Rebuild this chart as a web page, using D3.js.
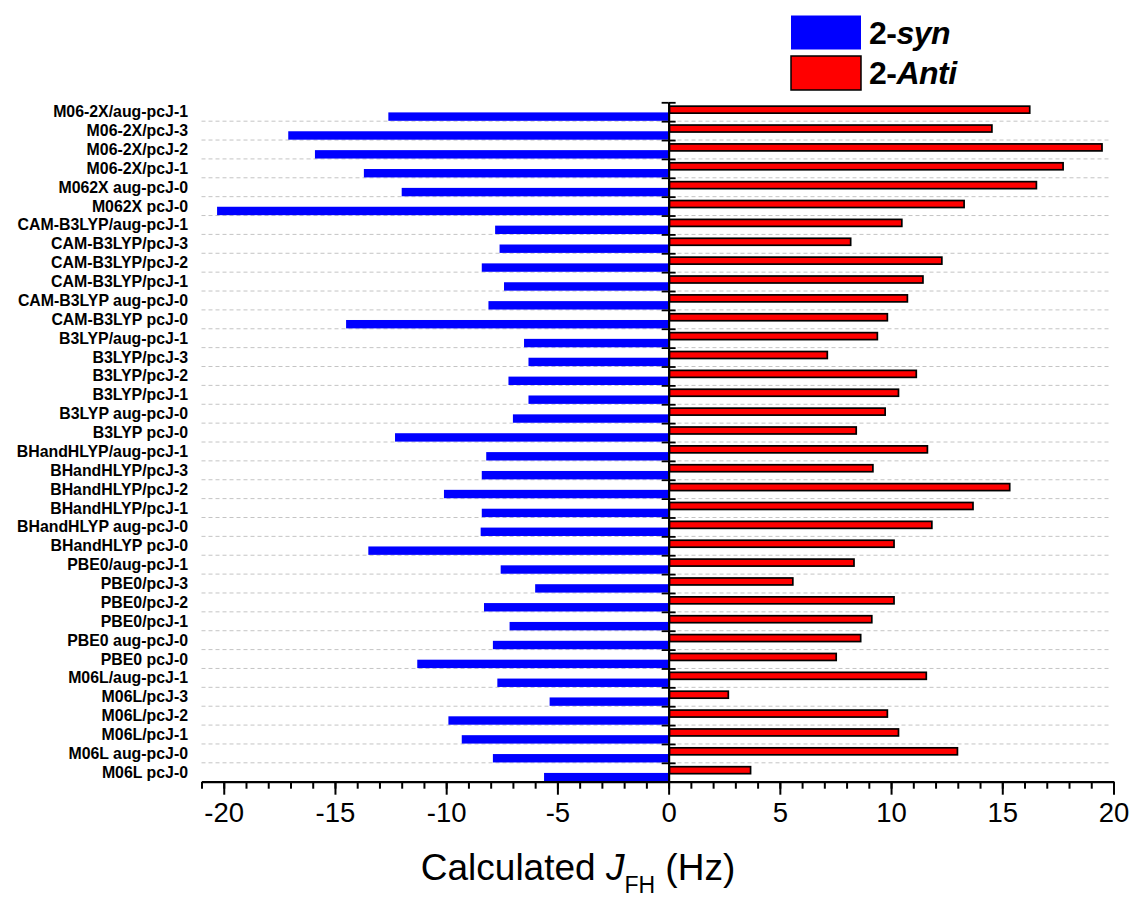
<!DOCTYPE html>
<html>
<head>
<meta charset="utf-8">
<script src="https://cdn.jsdelivr.net/npm/d3@7"></script>
<style>
  html, body { margin: 0; padding: 0; background: #fff; }
  svg { display: block; }
  text { font-family: "Liberation Sans", Arial, sans-serif; }
</style>
</head>
<body>
<svg id="chart" width="1132" height="899"></svg>
<script>
// Methods / basis sets, listed top to bottom
const categories = [
  "M06-2X/aug-pcJ-1", "M06-2X/pcJ-3", "M06-2X/pcJ-2", "M06-2X/pcJ-1", "M062X aug-pcJ-0", "M062X pcJ-0",
  "CAM-B3LYP/aug-pcJ-1", "CAM-B3LYP/pcJ-3", "CAM-B3LYP/pcJ-2", "CAM-B3LYP/pcJ-1", "CAM-B3LYP aug-pcJ-0", "CAM-B3LYP pcJ-0",
  "B3LYP/aug-pcJ-1", "B3LYP/pcJ-3", "B3LYP/pcJ-2", "B3LYP/pcJ-1", "B3LYP aug-pcJ-0", "B3LYP pcJ-0",
  "BHandHLYP/aug-pcJ-1", "BHandHLYP/pcJ-3", "BHandHLYP/pcJ-2", "BHandHLYP/pcJ-1", "BHandHLYP aug-pcJ-0", "BHandHLYP pcJ-0",
  "PBE0/aug-pcJ-1", "PBE0/pcJ-3", "PBE0/pcJ-2", "PBE0/pcJ-1", "PBE0 aug-pcJ-0", "PBE0 pcJ-0",
  "M06L/aug-pcJ-1", "M06L/pcJ-3", "M06L/pcJ-2", "M06L/pcJ-1", "M06L aug-pcJ-0", "M06L pcJ-0"
];

// Calculated J(FH) in Hz for the 2-syn conformer
const synValues = [
  -12.6, -17.1, -15.9, -13.7, -12.0, -20.3,
  -7.8, -7.6, -8.4, -7.4, -8.1, -14.5,
  -6.5, -6.3, -7.2, -6.3, -7.0, -12.3,
  -8.2, -8.4, -10.1, -8.4, -8.45, -13.5,
  -7.55, -6.0, -8.3, -7.15, -7.9, -11.3,
  -7.7, -5.35, -9.9, -9.3, -7.9, -5.6
];

// Calculated J(FH) in Hz for the 2-Anti conformer
const antiValues = [
  16.2, 14.5, 19.45, 17.7, 16.5, 13.25,
  10.45, 8.15, 12.25, 11.4, 10.7, 9.8,
  9.35, 7.1, 11.1, 10.3, 9.7, 8.4,
  11.6, 9.15, 15.3, 13.65, 11.8, 10.1,
  8.3, 5.55, 10.1, 9.1, 8.6, 7.5,
  11.55, 2.65, 9.8, 10.3, 12.95, 3.65
];

const xDomain = [-21, 20];
const majorTicks = [-20, -15, -10, -5, 0, 5, 10, 15, 20];
const minorTicks = d3.range(-21, 21, 1);

const legendItems = [
  { prefix: "2-", name: "syn", color: "#0000ff", stroke: "none" },
  { prefix: "2-", name: "Anti", color: "#ff0000", stroke: "#000" }
];

const svg = d3.select("#chart");
const plotTop = 102.3, plotBottom = 781.7, plotLeft = 201.5, plotRight = 1113.5;

const x = d3.scaleLinear().domain(xDomain).range([plotLeft, plotRight]);
const y = d3.scaleBand().domain(categories).range([plotTop, plotBottom]).paddingInner(0).paddingOuter(0);
const bw = y.bandwidth();
// row boundaries (index scale) for gridlines and axis ticks
const yb = d3.scaleLinear().domain([0, categories.length]).range([plotTop, plotBottom]);

// dashed gridlines between rows
svg.append("g")
  .selectAll("line")
  .data(d3.range(1, categories.length))
  .join("line")
  .attr("x1", x(xDomain[0])).attr("x2", x(xDomain[1]) - 3)
  .attr("y1", d => yb(d)).attr("y2", d => yb(d))
  .attr("stroke", "#c4c4c4").attr("stroke-width", 1)
  .attr("stroke-dasharray", "4,3");

// 2-syn bars (lower half of each row)
svg.append("g")
  .selectAll("rect")
  .data(categories.map((c, i) => ({ c, v: synValues[i] })))
  .join("rect")
  .attr("x", d => x(Math.min(0, d.v)))
  .attr("width", d => Math.abs(x(d.v) - x(0)))
  .attr("y", d => y(d.c) + bw * 0.535)
  .attr("height", bw * 0.445)
  .attr("fill", "#0000ff");

// 2-Anti bars (upper half of each row)
svg.append("g")
  .selectAll("rect")
  .data(categories.map((c, i) => ({ c, v: antiValues[i] })))
  .join("rect")
  .attr("x", d => x(Math.min(0, d.v)) + 0.75)
  .attr("width", d => Math.abs(x(d.v) - x(0)))
  .attr("y", d => y(d.c) + bw * 0.205)
  .attr("height", bw * 0.37)
  .attr("fill", "#ff0000")
  .attr("stroke", "#000").attr("stroke-width", 1.7);

// bottom axis: minor ticks every 1 Hz, major every 5 Hz
const gx = svg.append("g").attr("transform", `translate(0,${plotBottom})`);
gx.append("g")
  .call(d3.axisBottom(x).tickValues(minorTicks).tickSize(7).tickSizeOuter(0).tickFormat(""))
  .call(g => g.selectAll("line").attr("stroke-width", 2))
  .call(g => g.select(".domain").attr("stroke-width", 2.2));
gx.append("g")
  .call(d3.axisBottom(x).tickValues(majorTicks).tickSize(13).tickSizeOuter(0).tickPadding(8).tickFormat(d3.format("d")))
  .call(g => g.select(".domain").remove())
  .call(g => g.selectAll("line").attr("stroke-width", 2))
  .call(g => g.selectAll("text")
    .attr("font-size", 27.5)
    .attr("fill", "#000")
    .attr("font-family", "'Liberation Sans', Arial, sans-serif")
    .text(d => d < 0 ? "-" + Math.abs(d) : d));

// vertical axis at zero with ticks crossing it at every row boundary
const gy = svg.append("g").attr("transform", `translate(${x(0)},0)`);
gy.append("g")
  .call(d3.axisLeft(yb).tickValues(d3.range(0, categories.length)).tickSize(7).tickSizeOuter(0).tickFormat(""))
  .call(g => g.selectAll("line").attr("stroke-width", 1.8))
  .call(g => g.select(".domain").attr("stroke-width", 2.2));
gy.append("g")
  .call(d3.axisRight(yb).tickValues(d3.range(0, categories.length)).tickSize(7).tickSizeOuter(0).tickFormat(""))
  .call(g => g.select(".domain").remove())
  .call(g => g.selectAll("line").attr("stroke-width", 1.8));

// category labels, bold and slightly narrowed, right-aligned
svg.append("g")
  .selectAll("text")
  .data(categories)
  .join("text")
  .attr("transform", d => `translate(188,${y(d) + bw / 2 + 5.5}) scale(0.945,1)`)
  .attr("text-anchor", "end")
  .attr("font-size", 16.8)
  .attr("font-weight", "bold")
  .attr("fill", "#000")
  .text(d => d);

// axis title
const title = svg.append("text")
  .attr("x", 578).attr("y", 880)
  .attr("text-anchor", "middle")
  .attr("font-size", 37)
  .attr("fill", "#000");
title.append("tspan").text("Calculated ");
title.append("tspan").attr("font-style", "italic").text("J");
title.append("tspan").attr("font-size", 23).attr("dy", 13).text("FH");
title.append("tspan").attr("dy", -13).text(" (Hz)");

// legend
const legend = svg.append("g");
legendItems.forEach((item, i) => {
  const top = 15.5 + i * 40.5;
  legend.append("rect")
    .attr("x", 791).attr("y", top)
    .attr("width", 70).attr("height", 34)
    .attr("fill", item.color)
    .attr("stroke", item.stroke).attr("stroke-width", 1.5);
  const t = legend.append("text")
    .attr("x", 869).attr("y", top + 28)
    .attr("font-size", 32).attr("font-weight", "bold")
    .attr("letter-spacing", -0.5)
    .attr("fill", "#000");
  t.append("tspan").text(item.prefix);
  t.append("tspan").attr("font-style", "italic").text(item.name);
});
</script>
</body>
</html>
